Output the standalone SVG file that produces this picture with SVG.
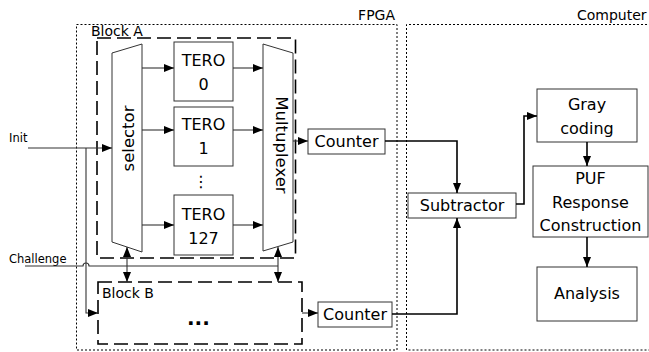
<svg xmlns="http://www.w3.org/2000/svg" width="649" height="352" viewBox="0 0 649 352">
<defs>
<style>
text{font-family:"DejaVu Sans","Liberation Sans",sans-serif;fill:#000}
.t16{font-size:16px;text-anchor:middle}
.lbl{font-size:14px}
.sm{font-size:11.5px}
.box{fill:#fff;stroke:#333;stroke-width:1}
.dot{fill:none;stroke:#000;stroke-width:1;stroke-dasharray:2,2}
.dash{fill:none;stroke:#000;stroke-width:1.6;stroke-dasharray:14,6}
.thin{fill:none;stroke:#333;stroke-width:1.1}
.thick{fill:none;stroke:#000;stroke-width:1.6}
</style>
<marker id="ah" viewBox="0 0 10 8" refX="10" refY="4" markerWidth="10" markerHeight="8" markerUnits="userSpaceOnUse" orient="auto-start-reverse"><path d="M0,0 L10,4 L0,8 z" fill="#000"/></marker>
</defs>
<rect width="649" height="352" fill="#fff"/>
<g id="fpga">
<rect class="dot" x="76.5" y="24.5" width="320.5" height="325.5"/>
<text class="lbl" x="395" y="20" text-anchor="end">FPGA</text>
</g>
<g id="computer">
<path class="dot" d="M655,24.5 H406.5 V350 H655"/>
<text class="lbl" x="577" y="20">Computer</text>
</g>
<g id="blockA">
<rect class="dash" x="97" y="38" width="198.5" height="220"/>
<text class="lbl" x="91" y="36">Block A</text>
</g>
<g id="blockB">
<rect class="dash" x="98" y="282" width="204" height="62"/>
<text class="lbl" x="102" y="298">Block B</text>
<text x="187" y="325" style="font-size:20px;font-weight:bold">...</text>
</g>
<g id="selector">
<path class="box" d="M112,53 L142,44 L142,252 L112,242 Z"/>
<text x="133.5" y="138.5" transform="rotate(-90 133.5 138.5)" style="font-size:16.5px;text-anchor:middle">selector</text>
</g>
<g id="multiplexer">
<path class="box" d="M263,44 L293,53 L293,242 L263,251 Z"/>
<text x="276" y="145" transform="rotate(90 276 145)" style="font-size:16.5px;text-anchor:middle">Multuplexer</text>
</g>
<g id="tero0">
<rect class="box" x="174" y="42" width="59" height="59"/>
<text class="t16" x="203.5" y="66">TERO</text>
<text class="t16" x="203.5" y="90">0</text>
</g>
<g id="tero1">
<rect class="box" x="174" y="107" width="59" height="59"/>
<text class="t16" x="203.5" y="130">TERO</text>
<text class="t16" x="203.5" y="154">1</text>
</g>
<text class="t16" x="201" y="187">⋮</text>
<g id="tero127">
<rect class="box" x="174" y="195" width="59" height="60"/>
<text class="t16" x="203.5" y="220">TERO</text>
<text class="t16" x="203.5" y="244">127</text>
</g>
<g id="counter1">
<rect class="box" x="308" y="129" width="77" height="25"/>
<text class="t16" x="346.5" y="147">Counter</text>
</g>
<g id="counter2">
<rect class="box" x="318" y="302" width="74" height="25"/>
<text class="t16" x="355" y="320">Counter</text>
</g>
<g id="subtractor">
<rect class="box" x="408" y="193" width="108" height="25"/>
<text class="t16" x="462" y="211">Subtractor</text>
</g>
<g id="gray">
<rect class="box" x="537" y="89" width="100" height="53"/>
<text class="t16" x="587" y="110">Gray</text>
<text class="t16" x="587" y="134">coding</text>
</g>
<g id="puf">
<rect class="box" x="533" y="166" width="115" height="71"/>
<text class="t16" x="590.5" y="184">PUF</text>
<text class="t16" x="590.5" y="208">Response</text>
<text class="t16" x="590.5" y="231">Construction</text>
</g>
<g id="analysis">
<rect class="box" x="537" y="267" width="100" height="54"/>
<text class="t16" x="587" y="299">Analysis</text>
</g>
<g id="inputs">
<text class="sm" x="9" y="142">Init</text>
<text class="sm" x="9" y="263">Challenge</text>
</g>
<g id="connectors">
<path class="thin" d="M142,68 H174" marker-end="url(#ah)"/>
<path class="thin" d="M142,130 H174" marker-end="url(#ah)"/>
<path class="thin" d="M142,225 H174" marker-end="url(#ah)"/>
<path class="thin" d="M233,68 H263" marker-end="url(#ah)"/>
<path class="thin" d="M233,130 H263" marker-end="url(#ah)"/>
<path class="thin" d="M233,225 H263" marker-end="url(#ah)"/>
<path class="thin" d="M28,148 H112" marker-end="url(#ah)"/>
<path class="thin" d="M86,148 V313 H98" marker-end="url(#ah)"/>
<path class="thin" d="M25,266 H83 A3,3 0 0 1 89,266 H278"/>
<path class="thin" d="M127,247 V282" marker-start="url(#ah)" marker-end="url(#ah)"/>
<path class="thin" d="M278,247 V282" marker-start="url(#ah)" marker-end="url(#ah)"/>
<path class="thin" d="M293,141 H308" marker-end="url(#ah)"/>
<path class="thin" d="M302,313 H318" marker-end="url(#ah)"/>
<path class="thick" d="M385,141 H457 V193" marker-end="url(#ah)"/>
<path class="thick" d="M392,314 H457 V218" marker-end="url(#ah)"/>
<path class="thick" d="M516,204 H524 V116 H537" marker-end="url(#ah)"/>
<path class="thick" d="M587,142 V166" marker-end="url(#ah)"/>
<path class="thick" d="M587,237 V267" marker-end="url(#ah)"/>
</g>
</svg>
